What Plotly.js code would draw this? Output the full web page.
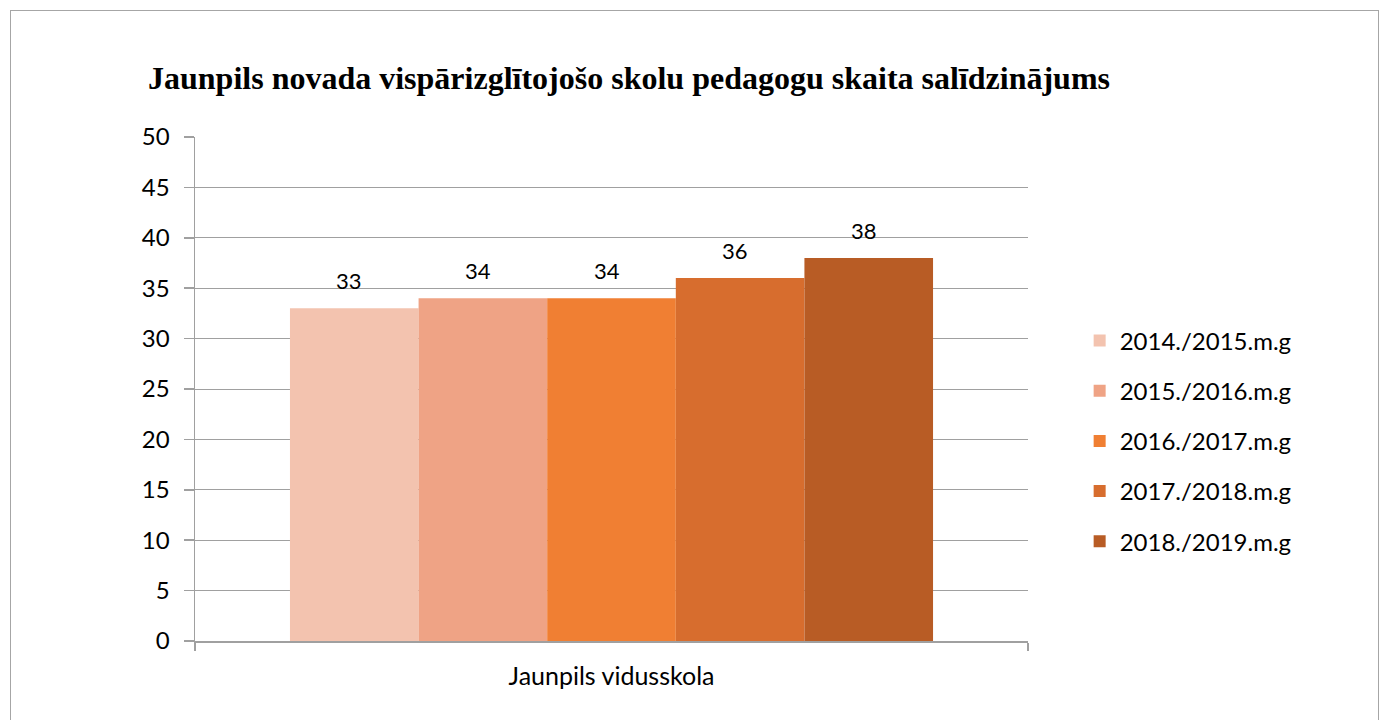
<!DOCTYPE html>
<html>
<head>
<meta charset="utf-8">
<script src="https://cdn.plot.ly/plotly-3.0.1.min.js"></script>
<style>
html,body{margin:0;padding:0;background:#fff;}
#wrap{position:relative;width:1389px;height:720px;}
#chart{width:1389px;height:720px;}
#frame{position:absolute;left:10px;top:10px;width:1369px;height:712px;border:1px solid #a6a6a6;pointer-events:none;box-sizing:border-box;}
</style>
</head>
<body>
<div id="wrap"><div id="chart"></div><div id="frame"></div></div>
<script>
const categories = ["Jaunpils vidusskola"];
const seriesNames = ["2014./2015.m.g", "2015./2016.m.g", "2016./2017.m.g", "2017./2018.m.g", "2018./2019.m.g"];
const seriesValues = [[33], [34], [34], [36], [38]];
const seriesColors = ["#F3C3AF", "#EFA385", "#F07F33", "#D76D2E", "#B85C25"];
const yTicks = [0, 5, 10, 15, 20, 25, 30, 35, 40, 45, 50];

const font = "Lato, 'Open Sans', sans-serif";
const plotW = 833;
const bargap = 0.228;
const barW = plotW * (1 - bargap) / seriesNames.length;

const traces = seriesNames.map((name, i) => ({
  type: 'bar',
  name: name,
  x: categories,
  y: seriesValues[i],
  legendgroup: 'g' + i,
  marker: {color: seriesColors[i], line: {width: 0}},
  hoverinfo: 'none'
}));

const annotations = [];
seriesValues.forEach((vals, i) => {
  vals.forEach((v, j) => {
    annotations.push({
      x: categories[j], y: v, xref: 'x', yref: 'y',
      text: String(v), showarrow: false,
      xanchor: 'center', yanchor: 'bottom',
      xshift: (i - (seriesNames.length - 1) / 2) * barW - 5,
      yshift: 12,
      font: {family: font, size: 22, color: '#000'}
    });
  });
});

const layout = {
  width: 1389, height: 720,
  margin: {l: 195, r: 361, t: 137, b: 79},
  paper_bgcolor: '#fff', plot_bgcolor: '#fff',
  barmode: 'group', bargap: bargap, bargroupgap: 0,
  showlegend: true,
  annotations: annotations,
  title: {
    text: 'Jaunpils novada vispārizglītojošo skolu pedagogu skaita salīdzinājums',
    font: {family: "'Liberation Serif', 'Times New Roman', serif", size: 32, color: '#000', weight: 'bold'},
    xref: 'container', yref: 'container',
    x: 148/1389, xanchor: 'left',
    y: 1 - 78/720, yanchor: 'middle'
  },
  xaxis: {
    type: 'category',
    showgrid: false,
    showline: true, linecolor: '#a0a0a0', linewidth: 1.5,
    ticks: 'outside', tickson: 'boundaries', ticklen: 8, tickcolor: '#a0a0a0', tickwidth: 1.5,
    tickfont: {family: font, size: 25, color: '#000'},
    ticklabelstandoff: 12,
    fixedrange: true
  },
  yaxis: {
    range: [0, 50],
    tickvals: yTicks,
    ticktext: yTicks.map(String),
    showgrid: true, gridcolor: '#a0a0a0', gridwidth: 1,
    showline: true, linecolor: '#a0a0a0', linewidth: 1.5,
    ticks: 'outside', ticklen: 10, tickcolor: '#a0a0a0', tickwidth: 1.5,
    tickfont: {family: font, size: 24, color: '#000'},
    ticklabelstandoff: 9,
    zeroline: false,
    fixedrange: true
  },
  legend: {
    x: 1.062, xanchor: 'left',
    y: 0.397, yanchor: 'middle',
    font: {family: font, size: 24, color: '#000'},
    tracegroupgap: 16,
    traceorder: 'grouped',
    bgcolor: 'rgba(0,0,0,0)'
  }
};

Plotly.newPlot('chart', traces, layout, {displayModeBar: false, staticPlot: true});
</script>
</body>
</html>
